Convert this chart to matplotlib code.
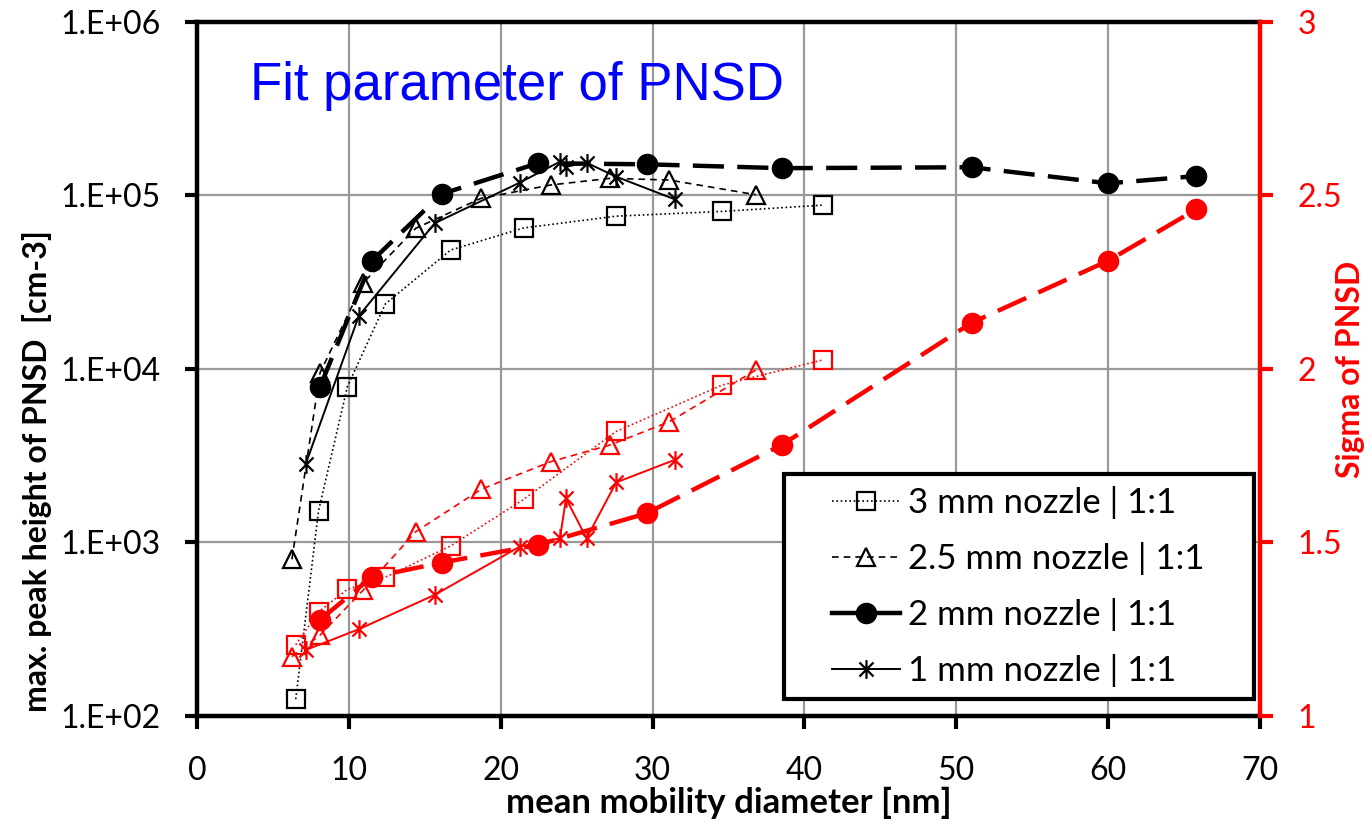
import numpy as np
import matplotlib.pyplot as plt
from matplotlib.path import Path
from matplotlib.lines import Line2D
from matplotlib.patches import Rectangle
from matplotlib.ticker import FixedLocator, FuncFormatter

# ---- data ----
d_3mm = [6.5, 8.0, 9.9, 12.4, 16.7, 21.5, 27.6, 34.6, 41.2]
peak_3mm = [125, 1520, 7900, 23700, 48500, 65000, 76000, 81000, 88000]
sigma_3mm = [1.205, 1.30, 1.365, 1.40, 1.49, 1.624, 1.82, 1.954, 2.026]

d_25mm = [6.25, 8.1, 10.95, 14.4, 18.7, 23.3, 27.2, 31.1, 36.8]
peak_25mm = [800, 9500, 31400, 64700, 96300, 115000, 125600, 122800, 101000]
sigma_25mm = [1.171, 1.233, 1.363, 1.531, 1.653, 1.733, 1.781, 1.848, 1.997]

d_2mm = [8.1, 11.5, 16.1, 22.45, 29.6, 38.5, 51.0, 60.0, 65.8]
peak_2mm = [7900, 41900, 102000, 153500, 151300, 143700, 145500, 117500, 129400]
sigma_2mm = [1.277, 1.40, 1.442, 1.493, 1.584, 1.781, 2.133, 2.312, 2.460]

d_1mm = [7.15, 10.65, 15.65, 21.25, 23.9, 24.3, 25.65, 27.6, 31.45]
peak_1mm = [2820, 20200, 69200, 118600, 156700, 146500, 154500, 128400, 95100]
sigma_1mm = [1.19, 1.25, 1.349, 1.488, 1.512, 1.627, 1.512, 1.673, 1.738]

labels = ['3 mm nozzle | 1:1', '2.5 mm nozzle | 1:1',
          '2 mm nozzle | 1:1', '1 mm nozzle | 1:1']

# excel style star: vertical bar + X
star = Path([(0, -1), (0, 1), (-0.75, -0.75), (0.75, 0.75), (-0.75, 0.75), (0.75, -0.75)],
            [Path.MOVETO, Path.LINETO, Path.MOVETO, Path.LINETO, Path.MOVETO, Path.LINETO])

plt.rcParams['font.family'] = ['Lato', 'DejaVu Sans']
fs = 23

fig = plt.figure(figsize=(13.72, 8.24), dpi=100)
ax = fig.add_axes([0.1436, 0.1311, 0.7748, 0.8422])
ax2 = ax.twinx()

styles = [
    dict(ls=(0, (1, 1.6)), lw=1.2, marker='s', ms=13.5, mfc='none', mew=1.6),
    dict(ls=(0, (4, 3)), lw=1.2, marker='^', ms=13, mfc='none', mew=1.6),
    dict(ls=(0, (7, 3)), lw=3.2, marker='o', ms=14.5, mew=1),
    dict(ls='-', lw=1.4, marker=star, ms=13.5, mfc='none', mew=1.6),
]
xs = [d_3mm, d_25mm, d_2mm, d_1mm]
peaks = [peak_3mm, peak_25mm, peak_2mm, peak_1mm]
sigmas = [sigma_3mm, sigma_25mm, sigma_2mm, sigma_1mm]

handles = []
for i in range(4):
    st = styles[i]
    ax.plot(xs[i], peaks[i], color='black', mec='black',
            mfc=st.get('mfc', 'black'), linestyle=st['ls'], lw=st['lw'],
            marker=st['marker'], ms=st['ms'], mew=st['mew'])
    ax2.plot(xs[i], sigmas[i], color='red', mec='red',
             mfc=st.get('mfc', 'red'), linestyle=st['ls'], lw=st['lw'],
             marker=st['marker'], ms=st['ms'], mew=st['mew'])
    # legend proxy (short handle shows the 2 mm dash as solid, like excel)
    hls = '-' if i == 2 else st['ls']
    handles.append(Line2D([], [], color='black', mec='black', mfc=st.get('mfc', 'black'),
                          linestyle=hls, lw=st['lw'], marker=st['marker'],
                          ms=st['ms'], mew=st['mew']))

ax.set_yscale('log')
ax.set_xlim(0, 70)
ax.set_ylim(1e2, 1e6)
ax2.set_ylim(1, 3)

ax.set_xticks(np.arange(0, 71, 10))
ax.yaxis.set_major_locator(FixedLocator([1e2, 1e3, 1e4, 1e5, 1e6]))
ax.yaxis.set_minor_locator(FixedLocator([]))
ax.yaxis.set_major_formatter(FuncFormatter(lambda v, p: '1.E+%02d' % round(np.log10(v))))
ax2.set_yticks([1, 1.5, 2, 2.5, 3])
ax2.set_yticklabels(['1', '1.5', '2', '2.5', '3'])

ax.grid(True, color='#999999', lw=1.6)
ax.set_axisbelow(True)

for s in ['left', 'bottom', 'top']:
    ax.spines[s].set_linewidth(3.2)
ax.spines['right'].set_visible(False)
for s in ['left', 'bottom', 'top']:
    ax2.spines[s].set_visible(False)
ax2.spines['right'].set_color('red')
ax2.spines['right'].set_linewidth(3.2)

ax.tick_params(axis='both', which='major', length=9, width=3, labelsize=fs)
ax.tick_params(axis='x', pad=20)
ax.tick_params(axis='y', which='both', right=False, pad=17)
ax2.tick_params(axis='y', length=9, width=3, colors='red', labelsize=fs, pad=18)

ax.set_xlabel('mean mobility diameter [nm]', fontsize=25, fontweight='bold', labelpad=0)
ax.set_ylabel('max. peak height of PNSD  [cm-3]', fontsize=fs, fontweight='bold')
ax.yaxis.set_label_coords(-0.136, 0.353)
ax2.set_ylabel('Sigma of PNSD', fontsize=fs, fontweight='bold', color='red')
ax2.yaxis.set_label_coords(1.0715, 0.5)

ax.text(0.05, 0.8876, 'Fit parameter of PNSD', transform=ax.transAxes, color='blue',
        fontsize=38, family='Liberation Sans', va='baseline', ha='left')

# legend box drawn separately: excel pads wide at the sides, tight at top/bottom
box = Rectangle((0.5522, 0.0245), 0.4422, 0.3242, transform=ax2.transAxes,
                facecolor='white', edgecolor='black', lw=3, zorder=10)
ax2.add_patch(box)
leg = ax2.legend(handles, labels, loc='upper left', bbox_to_anchor=(0.5974, 0.331),
                 fontsize=25, frameon=False, borderpad=0, borderaxespad=0,
                 handlelength=1.96, labelspacing=0.66, handletextpad=0.23)
leg.set_zorder(20)

fig.savefig('out.png', dpi=100)
